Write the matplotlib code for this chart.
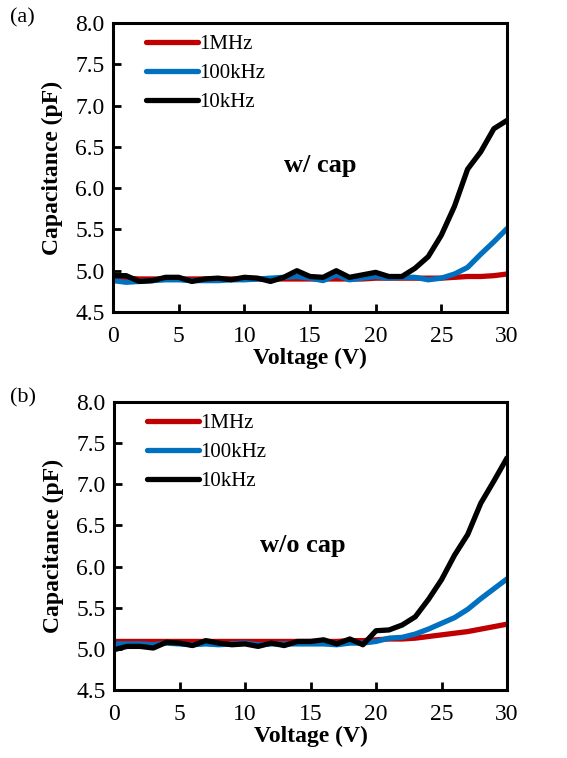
import matplotlib.pyplot as plt
import numpy as np

plt.rcParams['font.family'] = ['Liberation Serif', 'DejaVu Serif']

voltage = np.arange(0, 31)

# (a) w/ cap
a_1mhz = [4.91, 4.91, 4.90, 4.90, 4.90, 4.90, 4.90, 4.90, 4.90, 4.90, 4.90,
          4.90, 4.90, 4.90, 4.90, 4.90, 4.90, 4.90, 4.90, 4.90, 4.91, 4.91,
          4.91, 4.91, 4.91, 4.91, 4.92, 4.93, 4.93, 4.94, 4.96]
a_100khz = [4.88, 4.86, 4.87, 4.88, 4.89, 4.89, 4.88, 4.88, 4.88, 4.89, 4.89,
            4.90, 4.91, 4.92, 4.93, 4.91, 4.88, 4.95, 4.89, 4.91, 4.93, 4.91,
            4.92, 4.92, 4.89, 4.91, 4.96, 5.04, 5.20, 5.35, 5.51]
a_10khz = [4.94, 4.94, 4.87, 4.88, 4.92, 4.92, 4.87, 4.90, 4.91, 4.89, 4.92,
           4.91, 4.87, 4.92, 5.00, 4.93, 4.92, 5.00, 4.92, 4.95, 4.98, 4.93,
           4.93, 5.03, 5.17, 5.43, 5.78, 6.23, 6.44, 6.72, 6.82]

# (b) w/o cap
b_1mhz = [5.09, 5.09, 5.09, 5.09, 5.09, 5.09, 5.09, 5.09, 5.09, 5.09, 5.09,
          5.09, 5.09, 5.09, 5.09, 5.09, 5.09, 5.09, 5.10, 5.10, 5.11, 5.12,
          5.12, 5.13, 5.15, 5.17, 5.19, 5.21, 5.24, 5.27, 5.30]
b_100khz = [5.06, 5.06, 5.06, 5.05, 5.07, 5.06, 5.05, 5.06, 5.05, 5.06, 5.07,
            5.05, 5.06, 5.06, 5.06, 5.06, 5.06, 5.05, 5.07, 5.07, 5.09, 5.13,
            5.14, 5.18, 5.24, 5.31, 5.38, 5.48, 5.61, 5.73, 5.85]
b_10khz = [4.99, 5.03, 5.03, 5.01, 5.08, 5.07, 5.04, 5.10, 5.07, 5.05, 5.06,
           5.03, 5.07, 5.04, 5.09, 5.09, 5.11, 5.06, 5.12, 5.05, 5.22, 5.23,
           5.29, 5.39, 5.60, 5.84, 6.14, 6.39, 6.77, 7.04, 7.32]

labels = ['1MHz', '100kHz', '10kHz']
colors = ['#C00000', '#0070C0', '#000000']

fig = plt.figure(figsize=(5.67, 7.58), dpi=100)
W, H = 567, 758
panels = [
    ((113, 23, 507, 312), (a_1mhz, a_100khz, a_10khz), 'w/ cap', (15.8, 6.28), '(a)', 18),
    ((114, 402, 507, 690), (b_1mhz, b_100khz, b_10khz), 'w/o cap', (14.4, 6.26), '(b)', 398),
]

for (l, t, r, b), series, note, note_xy, tag, tagy in panels:
    ax = fig.add_axes([l / W, 1 - b / H, (r - l) / W, (b - t) / H])
    for ys, lab, c in zip(series, labels, colors):
        ax.plot(voltage, ys, color=c, lw=3.8, label=lab, solid_capstyle='round')
    ax.set_xlim(0, 30)
    ax.set_ylim(4.5, 8.0)
    ax.set_xticks(range(0, 31, 5))
    ax.set_yticks(np.arange(4.5, 8.01, 0.5))
    ax.set_yticklabels([f'{v:.1f}' for v in np.arange(4.5, 8.01, 0.5)])
    for s in ax.spines.values():
        s.set_linewidth(2.2)
    ax.tick_params(direction='in', length=6, width=2, labelsize=17, pad=6)
    ax.tick_params(axis='x', pad=10)
    ax.set_xlabel('Voltage (V)', fontsize=17, fontweight='bold', labelpad=1)
    ax.set_ylabel('Capacitance (pF)', fontsize=17, fontweight='bold', labelpad=9)
    ax.text(*note_xy, note, fontsize=19, fontweight='bold', ha='center', va='center')
    ax.legend(loc='upper left', frameon=False, fontsize=15, handlelength=2.5,
              handletextpad=0.05, borderaxespad=0.15, labelspacing=0.45,
              bbox_to_anchor=(0.055, 1.0))
    fig.text(10 / W, 1 - tagy / H, tag, fontsize=16, ha='left', va='center')

fig.savefig('out.png', dpi=100)
